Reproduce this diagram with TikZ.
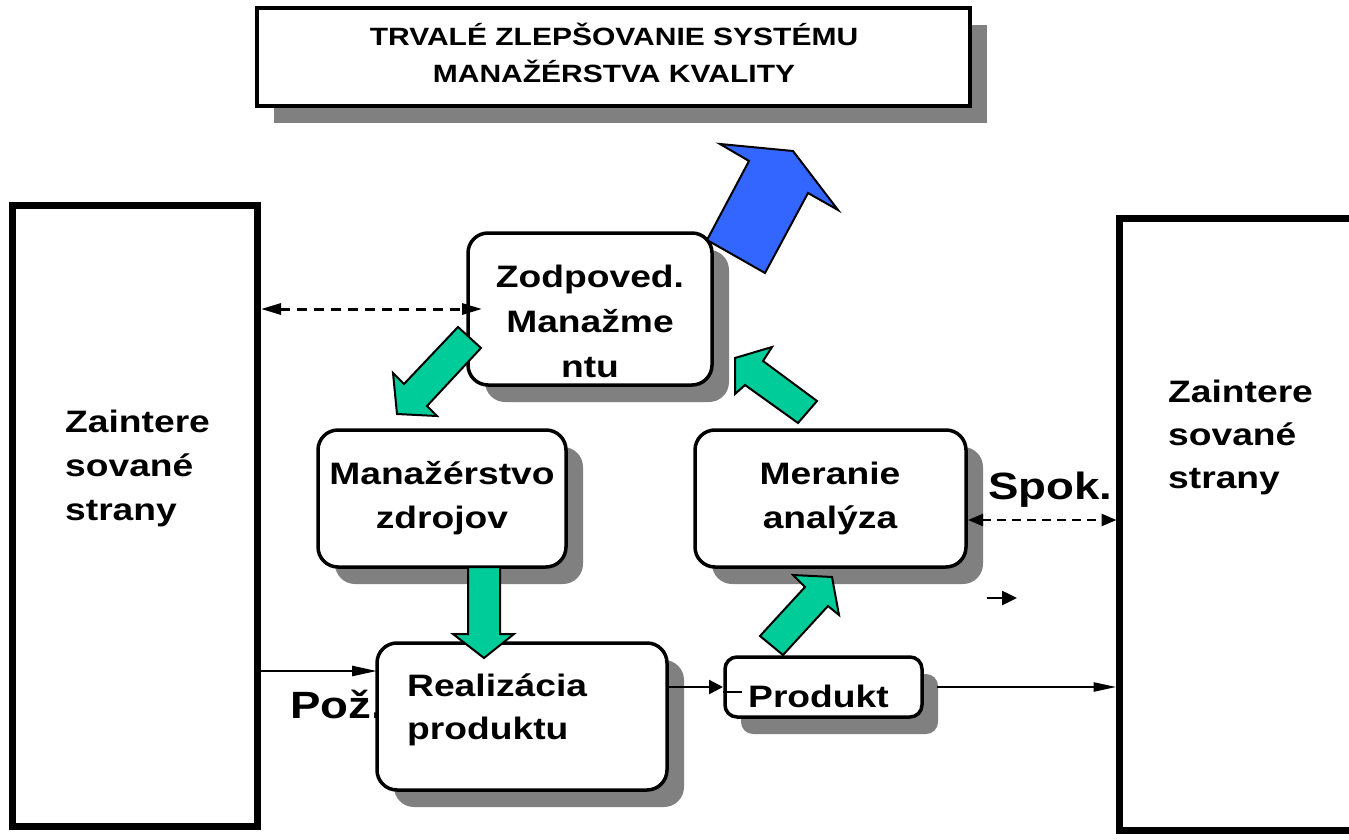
\documentclass[tikz,border=0pt]{standalone}
\usepackage{fontspec}
\setmainfont{Liberation Sans}[FakeStretch=1.2]
\usetikzlibrary{arrows.meta,calc,backgrounds}
\definecolor{shadowc}{HTML}{808080}
\definecolor{greenc}{HTML}{00CC99}
\definecolor{bluec}{HTML}{3366FF}
\begin{document}
\begin{tikzpicture}[x=1pt,y=-1pt,
  box/.style={draw, line width=3.5pt, rounded corners=20pt, fill=white, inner sep=0pt, outer sep=0pt, anchor=north west},
  bigbox/.style={draw, line width=7pt, fill=white, inner sep=0pt, outer sep=0pt, anchor=north west},
  txt/.style={font=\bfseries\fontsize{31}{44}\selectfont, inner sep=0pt},
  toptxt/.style={font=\bfseries\fontsize{25}{30}\selectfont, inner sep=0pt, anchor=base},
  bigtxt/.style={font=\bfseries\fontsize{38}{44}\selectfont, inner sep=0pt, anchor=base west},
  conn/.style={line width=2.5pt},
  blockarrow/.style={draw=black, line width=2pt, line join=miter, fill=greenc}]
\useasboundingbox (0,0) rectangle (1349,840);
\clip (0,0) rectangle (1349,840);

% big side boxes
\node[bigbox, minimum width=244.5pt, minimum height=621pt] (left) at (12.5,205) {};
\node[bigbox, minimum width=250pt, minimum height=612pt] (right) at (1119.5,218) {};

% top box
\node[draw, line width=3.5pt, fill=white, inner sep=0pt, outer sep=0pt, anchor=north west,
      minimum width=713pt, minimum height=98pt] (top) at (257,8) {};

% label under the Realizacia box
\node[bigtxt] (poz) at (290,718) {Pož.};

% process boxes
\node[box, minimum width=244pt, minimum height=152pt] (zod) at (468,233) {};
\node[box, minimum width=248pt, minimum height=137pt] (man) at (318,430) {};
\node[box, minimum width=271pt, minimum height=137pt] (mer) at (695,430) {};
\node[box, minimum width=290pt, minimum height=147pt] (real) at (377,643) {};
\node[box, rounded corners=12pt, minimum width=197pt, minimum height=60pt] (prod) at (725,657) {};

% shadows
\begin{scope}[on background layer]
  \fill[shadowc] ($(top.south west)+(17,17)$) rectangle ($(top.north east)+(17,17)$);
  \fill[shadowc, rounded corners=20pt] ($(zod.south west)+(17,17)$) rectangle ($(zod.north east)+(17,17)$);
  \fill[shadowc, rounded corners=20pt] ($(man.south west)+(17,17)$) rectangle ($(man.north east)+(17,17)$);
  \fill[shadowc, rounded corners=20pt] ($(mer.south west)+(17,17)$) rectangle ($(mer.north east)+(17,17)$);
  \fill[shadowc, rounded corners=20pt] ($(real.south west)+(17,17)$) rectangle ($(real.north east)+(17,17)$);
  \fill[shadowc, rounded corners=12pt] ($(prod.south west)+(16,17)$) rectangle ($(prod.north east)+(16,17)$);
\end{scope}

% texts
\node[toptxt] (t1) at (614,46) {TRVALÉ ZLEPŠOVANIE SYSTÉMU};
\node[toptxt] (t2) at (614,83) {MANAŽÉRSTVA KVALITY};

\node[txt, anchor=base west] (l1) at (65,432) {Zaintere};
\node[txt, anchor=base west] (l2) at (65,476) {sované};
\node[txt, anchor=base west] (l3) at (65,520) {strany};

\node[txt, anchor=base west] (r1) at (1168,402) {Zaintere};
\node[txt, anchor=base west] (r2) at (1168,445) {sované};
\node[txt, anchor=base west] (r3) at (1168,488) {strany};

\node[txt, anchor=base] (z1) at (590,287) {Zodpoved.};
\node[txt, anchor=base] (z2) at (590,332) {Manažme};
\node[txt, anchor=base] (z3) at (590,377) {ntu};

\node[txt, anchor=base] (m1) at (442,484) {Manažérstvo};
\node[txt, anchor=base] (m2) at (442,528) {zdrojov};

\node[txt, anchor=base] (a1) at (830,484) {Meranie};
\node[txt, anchor=base] (a2) at (830,528) {analýza};

\node[txt, anchor=base west] (p1) at (407,696) {Realizácia};
\node[txt, anchor=base west] (p2) at (407,739) {produktu};

\node[txt, anchor=base west] (pr) at (748,707) {Produkt};

\node[bigtxt] (spok) at (988,499) {Spok.};

% block arrows
\draw[blockarrow, fill=bluec] (720,144) -- (793,151) -- (838,210) -- (808,193) -- (765,273) -- (707,240) -- (749,161) -- cycle;
\draw[blockarrow] (458,327) -- (481,348) -- (427,406) -- (437,416) -- (397,414) -- (393,373) -- (404,384) -- cycle;
\draw[blockarrow] (468,567) -- (500,567) -- (500,634) -- (514,634) -- (484,658) -- (453,634) -- (468,634) -- cycle;
\draw[blockarrow] (783,655) -- (760,636) -- (805,587) -- (793,575) -- (832,577) -- (839,615) -- (828,606) -- cycle;
\draw[blockarrow] (735,358) -- (772,347) -- (763,361) -- (817,401) -- (798,423) -- (745,385) -- (735,394) -- cycle;

% connectors
\draw[line width=3pt, dash pattern=on 10pt off 7pt,
      {Triangle[length=20pt,width=11pt]}-{Triangle[length=20pt,width=11pt]}]
  ($(left.east |- zod.west)+(4,0)$) -- ($(zod.west)+(14,0)$);

\coordinate (sp) at ($(mer.east)+(0,21.5)$);
\draw[conn, dash pattern=on 9pt off 6pt,
      {Triangle[length=15pt,width=12pt]}-{Triangle[length=15pt,width=12pt]}]
  ($(sp)+(2,0)$) -- ($(right.west |- sp)+(-3,0)$);

\coordinate (pp) at ($(real.north west)+(0,28)$);
\draw[conn, -{Triangle[length=25pt,width=10pt]}] ($(left.east |- pp)+(3,0)$) -- (pp);

\draw[conn, -{Triangle[length=14pt,width=14pt]}] (real.east |- prod.west) -- ($(prod.west)+(-2,0)$);
\draw[conn] ($(prod.west)+(-2,5)$) -- ($(prod.west)+(17,5)$);

\draw[conn, -{Triangle[length=23pt,width=9pt]}] ($(prod.east)+(15,0)$) -- ($(right.west |- prod.east)+(-3,0)$);

\coordinate (fa1) at (987,598);
\coordinate (fa2) at (1017,598);
\draw[conn, -{Triangle[length=15pt,width=14pt]}] (fa1) -- (fa2);
\end{tikzpicture}
\end{document}
